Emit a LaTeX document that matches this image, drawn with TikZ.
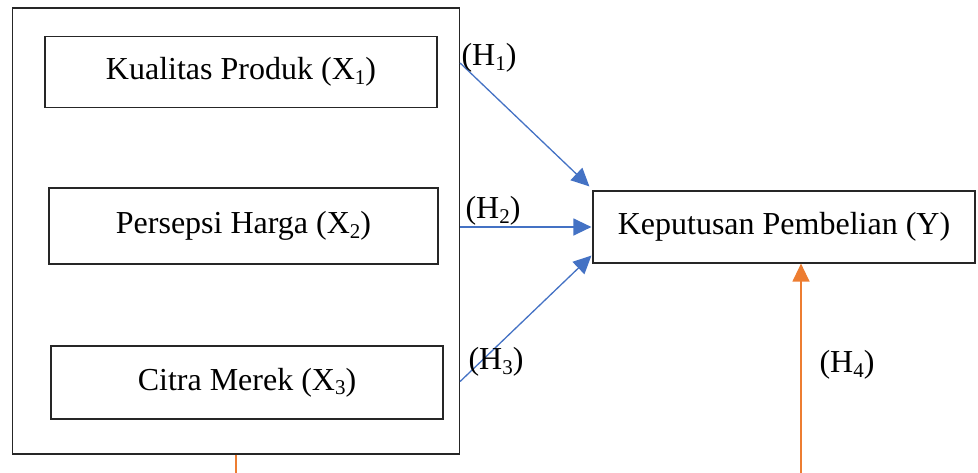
\documentclass[tikz,border=0pt]{standalone}
\usepackage{fontspec}
\setmainfont{Liberation Serif}
\usetikzlibrary{arrows.meta,positioning}
\definecolor{hypblue}{RGB}{68,114,196}
\definecolor{modorange}{RGB}{237,125,49}
\newcommand{\idx}[1]{\raisebox{-0.3ex}{\fontsize{21}{21}\selectfont #1}}

\begin{document}
\begin{tikzpicture}[
    x=1pt, y=-1pt,
    font=\fontsize{32}{38}\selectfont,
    var/.style={draw=black!85, line width=1.2pt, inner sep=0pt},
    hyp/.style={hypblue, line width=1.3pt, -{Triangle[length=18pt, width=17pt]}},
    mod/.style={modorange, line width=1.3pt, -{Triangle[length=18pt, width=17pt]}},
    lab/.style={inner sep=0pt}
]
\clip (0,0) rectangle (978,472);
\useasboundingbox (0,0) rectangle (978,472);

% independent variables
\node[var, minimum width=447pt, minimum height=446pt] (outer) at (236,231) {};
\node[var, minimum width=392pt, minimum height=71pt] (x1) at (241,72) {Kualitas Produk (X\idx{1})};
\node[var, minimum width=389pt, minimum height=76pt] (x2) at (243.5,226) {Persepsi Harga (X\idx{2})};
\node[var, minimum width=392pt, minimum height=73pt] (x3) at (247,382.5) {Citra Merek (X\idx{3})};

% dependent variable
\node[var, minimum width=382pt, minimum height=72pt] (y) at (784,227) {Keputusan Pembelian (Y)};

% partial effects
\path (outer.east |- x1) ++(0,-9) coordinate (h1s);
\path (outer.east |- x3) ++(0,-1) coordinate (h3s);
\draw[hyp] (h1s) -- ([shift={(-3,-4)}]y.north west);
\draw[hyp] (outer.east |- y.west) -- ([xshift=-1pt]y.west);
\draw[hyp] (h3s) -- ([shift={(-1,-8)}]y.south west);

\node[lab] (h1) at (489,58) {(H\idx{1})};
\node[lab] (h2) at (493,211) {(H\idx{2})};
\node[lab] (h3) at (496,362) {(H\idx{3})};

% simultaneous effect
\coordinate (h4s) at (801,500);
\draw[mod] (outer.south) |- (h4s) -- (h4s |- y.south);
\node[lab] (h4) at (847,365) {(H\idx{4})};
\end{tikzpicture}
\end{document}
